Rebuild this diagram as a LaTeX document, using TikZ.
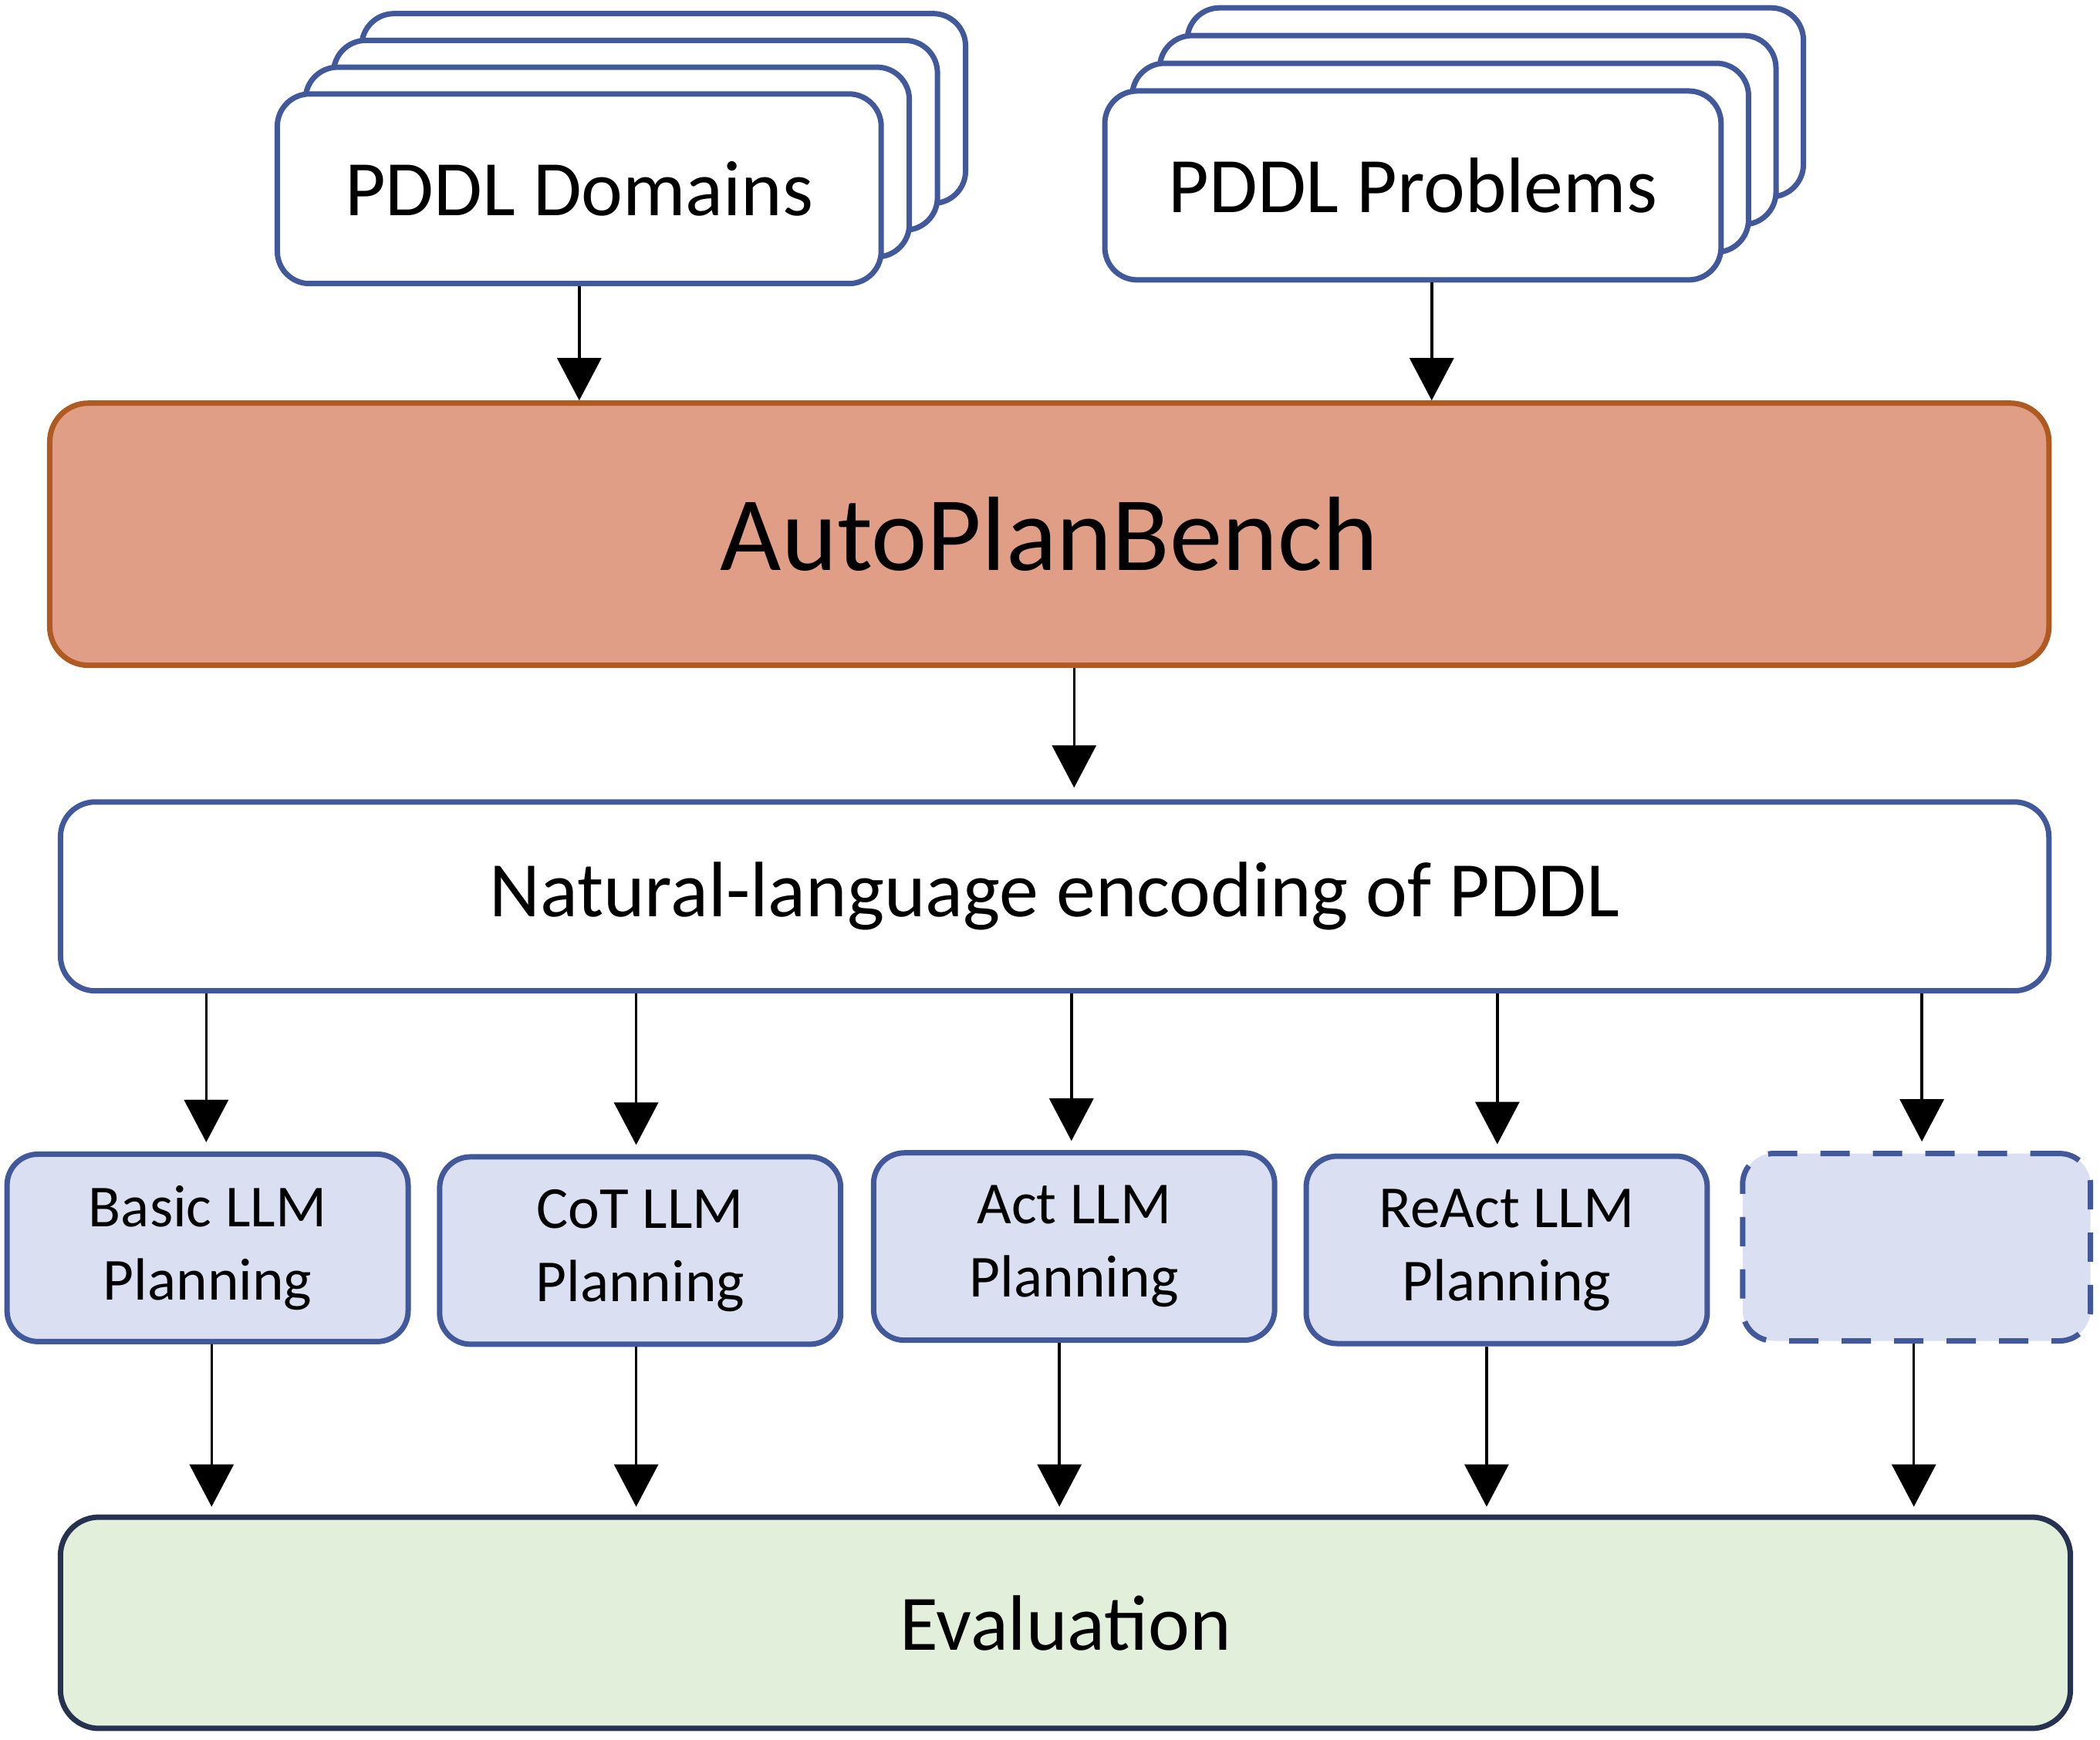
\documentclass[tikz,border=0pt]{standalone}
\usepackage{fontspec}
\setmainfont{Carlito}
\usetikzlibrary{arrows.meta,calc}
\definecolor{bord}{HTML}{41589A}
\definecolor{apbfill}{HTML}{E09E87}
\definecolor{apbbord}{HTML}{AE5A21}
\definecolor{planfill}{HTML}{DAE0F2}
\definecolor{evalfill}{HTML}{E2EFDA}
\definecolor{evalbord}{HTML}{263250}
\begin{document}
\begin{tikzpicture}[x=0.01736cm,y=-0.01736cm,
  box/.style={draw=bord, line width=0.07cm, fill=white, rounded corners=0.42cm, inner sep=0pt, align=center},
  stackbox/.style={box, minimum width=7.83cm, minimum height=2.46cm, font=\fontsize{29}{35}\selectfont},
  stackboxb/.style={box, minimum width=7.99cm, minimum height=2.45cm, font=\fontsize{29}{35}\selectfont},
  planbox/.style={box, fill=planfill, rounded corners=0.4cm, minimum width=5.2cm, minimum height=2.43cm, font=\fontsize{22}{27}\selectfont},
  arr/.style={line width=0.035cm, -{Triangle[length=0.55cm,width=0.57cm]}},
]
\useasboundingbox (0,0) rectangle (1568,1299);

% PDDL Domains stack
\foreach \k in {3,2,1}{
  \node[stackbox] at (432.5+21*\k,141-20*\k) {};
}
\node[stackbox] (dom) at (432.5,141) {PDDL Domains};

% PDDL Problems stack
\foreach \k in {3,2,1}{
  \node[stackboxb] at (1055+20.5*\k,138.5-20.7*\k) {};
}
\node[stackboxb] (prob) at (1055,138.5) {PDDL Problems};

% AutoPlanBench
\node[box, fill=apbfill, draw=apbbord, rounded corners=0.5cm, minimum width=25.92cm, minimum height=3.40cm,
  font=\fontsize{39}{46}\selectfont] (apb) at (783.5,399) {AutoPlanBench};

% Natural-language encoding
\node[box, rounded corners=0.45cm, minimum width=25.78cm, minimum height=2.45cm,
  font=\fontsize{29}{35}\selectfont] (nl) at (787.5,669.5) {Natural-language encoding of PDDL};

% Planning boxes
\node[planbox] (basic) at (155,932) {Basic LLM\\Planning};
\node[planbox] (cot) at (478,934) {CoT LLM\\Planning};
\node[planbox] (act) at (802,931) {Act LLM\\Planning};
\node[planbox] (react) at (1125,933.5) {ReAct LLM\\Planning};
\node[planbox, minimum width=4.51cm, dash pattern=on 0.38cm off 0.3cm] (extra) at (1431,931.5) {};

% Evaluation
\node[box, fill=evalfill, draw=evalbord, rounded corners=0.5cm, minimum width=26.06cm, minimum height=2.74cm,
  font=\fontsize{29}{35}\selectfont] (eval) at (795.5,1212) {Evaluation};

% Connectors
\draw[arr] (dom.south) -- (dom.south |- apb.north);
\coordinate (pbot) at ($(prob.south)+(14,0)$);
\draw[arr] (pbot) -- (pbot |- apb.north);
\coordinate (abot) at ($(apb.south)+(18.5,0)$);
\draw[arr, shorten >=0.15cm] (abot) -- (abot |- nl.north);

\foreach \n/\a/\b in {basic/-1/3, cot/-3/-3, act/-2/-11, react/-7/-15, extra/4/-2}{
  \draw[arr, shorten >=0.12cm] ($(\n.north |- nl.south)+(\a,0)$) -- ($(\n.north)+(\a,0)$);
  \draw[arr, shorten >=0.1cm] ($(\n.south)+(\b,0)$) -- ($(\n.south |- eval.north)+(\b,0)$);
}
\end{tikzpicture}
\end{document}
